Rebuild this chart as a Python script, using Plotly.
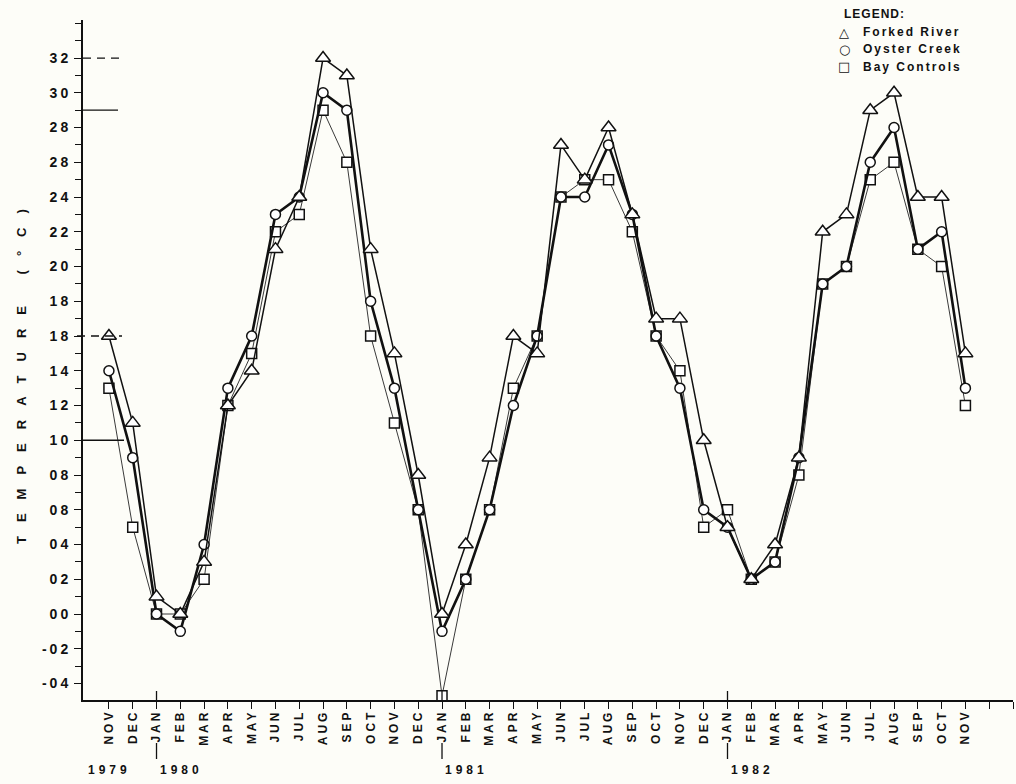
import plotly.graph_objects as go

# ---------------- data ----------------
months = ["NOV", "DEC", "JAN", "FEB", "MAR", "APR", "MAY", "JUN", "JUL", "AUG", "SEP", "OCT",
          "NOV", "DEC", "JAN", "FEB", "MAR", "APR", "MAY", "JUN", "JUL", "AUG", "SEP", "OCT",
          "NOV", "DEC", "JAN", "FEB", "MAR", "APR", "MAY", "JUN", "JUL", "AUG", "SEP", "OCT", "NOV"]
extra_month_ticks = ["", ""]  # DEC 1982, JAN 1983 ticks without labels

forked_river = [16, 11, 1, 0, 3, 12, 14, 21, 24, 32, 31, 21, 15, 8, 0, 4, 9, 16, 15, 27,
                25, 28, 23, 17, 17, 10, 5, 2, 4, 9, 22, 23, 29, 30, 24, 24, 15]
oyster_creek = [14, 9, 0, -1, 4, 13, 16, 23, 24, 30, 29, 18, 13, 6, -1, 2, 6, 12, 16, 24,
                24, 27, 23, 16, 13, 6, 5, 2, 3, 9, 19, 20, 26, 28, 21, 22, 13]
bay_controls = [13, 5, 0, 0, 2, 12, 15, 22, 23, 29, 26, 16, 11, 6, -4.7, 2, 6, 13, 16, 24,
                25, 25, 22, 16, 14, 5, 6, 2, 3, 8, 19, 20, 25, 26, 21, 20, 12]

y_tick_vals = [-4, -2, 0, 2, 4, 6, 8, 10, 12, 14, 16, 18, 20, 22, 24, 26, 28, 30, 32]
y_tick_text = ["-04", "-02", "00", "02", "04", "08", "08", "10", "12", "14", "18", "18",
               "20", "22", "24", "28", "28", "30", "32"]

years = ["1979", "1980", "1981", "1982"]

ref_levels = [32, 29, 16, 10]
ref_dash = ["dash", "solid", "dash", "solid"]

# ---------------- style helpers ----------------
FONT = "Liberation Sans, Arial, Helvetica, sans-serif"
BG = "#fdfdf8"
W, H = 1016, 784
ML, MR, MT, MB = 83, 3, 20, 84
PW, PH = W - ML - MR, H - MT - MB


def px_x(p):
    return (p - ML) / PW


def px_y(p):
    return (H - MB - p) / PH


def spaced(t, s):
    return '<span style="letter-spacing:%dpx">%s</span>' % (s, t)


x_idx = list(range(len(months)))
all_ticks = list(range(len(months) + len(extra_month_ticks)))
all_ticktext = [spaced(m, 3) for m in months] + extra_month_ticks

fig = go.Figure()

series = [
    ("Bay Controls", bay_controls, "square", 10, 1.0, "#3a3a3a"),
    ("Oyster Creek", oyster_creek, "circle", 10, 2.6, "#111111"),
    ("Forked River", forked_river, "triangle-up", 13, 1.5, "#111111"),
]
for name, vals, sym, size, lw, col in series:
    fig.add_trace(go.Scatter(
        x=x_idx, y=vals, name=name, mode="lines+markers",
        line=dict(color=col, width=lw),
        marker=dict(symbol=sym, size=size, color="white",
                    line=dict(color="#111111", width=1.5)),
        cliponaxis=False, showlegend=False,
    ))

# reference marks at left of the axis
shapes = []
for lvl, dsh in zip(ref_levels, ref_dash):
    x0 = px_x(77) if (dsh == "dash" and lvl < 20) else 0
    x1 = px_x(122) if dsh == "dash" else px_x(118 if lvl > 20 else 124)
    shapes.append(dict(type="line", xref="paper", yref="y", x0=x0, x1=x1, y0=lvl, y1=lvl,
                       line=dict(color="#111111", width=1.3,
                                 dash="8px,6px" if dsh == "dash" else "solid")))

# year markers at each January
jan_positions = [i for i, m in enumerate(months) if m == "JAN"]
for jp in jan_positions:
    shapes.append(dict(type="line", xref="x", yref="paper", x0=jp, x1=jp,
                       y0=0, y1=px_y(691), line=dict(color="#111111", width=1.3)))
    shapes.append(dict(type="line", xref="x", yref="paper", x0=jp, x1=jp,
                       y0=px_y(743), y1=px_y(759), line=dict(color="#111111", width=1.3)))

annotations = []
yr_font = dict(family=FONT, size=12, color="#111", weight=700)
# year labels
annotations.append(dict(x=jan_positions[0], xref="x", xshift=-24, y=px_y(770), yref="paper",
                        text=spaced(years[0], 4), showarrow=False, xanchor="right",
                        yanchor="middle", font=yr_font))
for yr, jp in zip(years[1:], jan_positions):
    annotations.append(dict(x=jp, xref="x", xshift=1, y=px_y(770), yref="paper",
                            text=spaced(yr, 4), showarrow=False, xanchor="left",
                            yanchor="middle", font=yr_font))

# y axis title
annotations.append(dict(x=px_x(22), y=px_y(370), xref="paper", yref="paper",
                        xanchor="center", yanchor="middle",
                        text=spaced("TEMPERATURE (°C)", 14), textangle=-90, showarrow=False,
                        font=dict(family=FONT, size=13, color="#111", weight=700)))

# legend block
leg_font = dict(family=FONT, size=12, color="#111", weight=700)
annotations.append(dict(x=px_x(842), y=px_y(14), xref="paper", yref="paper", xanchor="left",
                        yanchor="middle", text=spaced("LEGEND:", 1), showarrow=False,
                        font=leg_font))
legend_items = [("△", "Forked River", 32), ("○", "Oyster Creek", 49.5), ("□", "Bay Controls", 67)]
for glyph, label, py in legend_items:
    annotations.append(dict(x=px_x(844), y=px_y(py), xref="paper", yref="paper",
                            text=glyph, showarrow=False, xanchor="center", yanchor="middle",
                            font=dict(family="DejaVu Sans", size=13, color="#111")))
    annotations.append(dict(x=px_x(861), y=px_y(py), xref="paper", yref="paper",
                            xanchor="left", yanchor="middle", text=spaced(label, 2),
                            showarrow=False, font=leg_font))

fig.update_layout(
    width=W, height=H,
    margin=dict(l=ML, r=MR, t=MT, b=MB, pad=0),
    paper_bgcolor=BG, plot_bgcolor=BG,
    shapes=shapes, annotations=annotations,
    showlegend=False,
    xaxis=dict(range=[-1.09, 38.0], tickvals=all_ticks, ticktext=all_ticktext,
               tickangle=-90, ticks="outside", ticklen=7, tickwidth=1.3, tickcolor="#111",
               ticklabelstandoff=-4,
               showline=True, linecolor="#111", linewidth=1.5, showgrid=False, zeroline=False,
               tickfont=dict(family=FONT, size=12, color="#111", weight=700)),
    yaxis=dict(range=[-4.95, 34.19], tickvals=y_tick_vals,
               ticktext=[spaced(t, 3) for t in y_tick_text],
               ticks="outside", ticklen=7, tickwidth=1.3, tickcolor="#111",
               minor=dict(dtick=1, tick0=0, ticks="outside", ticklen=6, tickwidth=1.3,
                          tickcolor="#111", showgrid=False),
               showline=True, linecolor="#111", linewidth=2, showgrid=False, zeroline=False,
               tickfont=dict(family=FONT, size=14, color="#111", weight=700)),
)

fig.write_html("out.html", config={"displayModeBar": False},
               post_script="document.body.style.margin='0';document.body.style.background='%s';" % BG)
